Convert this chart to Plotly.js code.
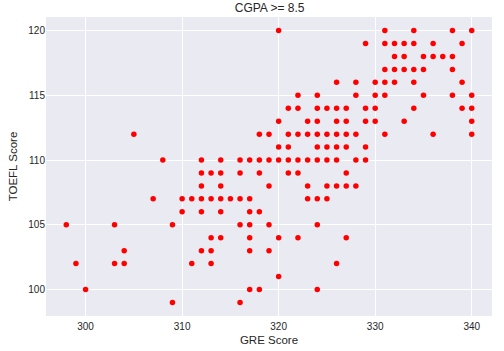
<!DOCTYPE html>
<html><head><meta charset="utf-8">
<script src="https://cdn.plot.ly/plotly-3.0.1.min.js"></script>
<style>html,body{margin:0;padding:0;background:#fff}#chart{width:504px;height:351px}</style>
</head><body><div id="chart"></div>
<script>
// Points grouped by TOEFL score: list of GRE scores at each TOEFL value
const toeflLevels = [120,119,118,117,116,115,114,113,112,111,110,109,108,107,106,105,104,103,102,101,100,99];
const greByToefl = [
  [320,331,334,338,340],
  [329,331,332,333,334,336,339],
  [332,333,335,336,337,338],
  [331,332,333,334,335,338],
  [326,328,330,331,332,334,339],
  [322,324,328,330,331,335,338,340],
  [321,322,324,325,326,327,329,330,334,339,340],
  [320,323,324,326,327,329,330,333,340],
  [305,318,319,321,322,323,324,325,326,327,328,331,336,340],
  [320,321,324,325,326,327,329],
  [308,312,314,316,317,318,319,320,321,322,323,324,325,326,328,329],
  [312,313,314,316,318,321,322,327],
  [312,314,319,323,325,326,327,328],
  [307,310,311,312,313,314,315,316,317,323,324,325],
  [310,312,314,317,318],
  [298,303,309,316,317,319,324],
  [313,314,317,320,322,327],
  [304,312,313,317,319],
  [299,303,304,311,313,326],
  [320],
  [300,317,318,324],
  [309,316]
];
const greScore = [];
const toeflScore = [];
toeflLevels.forEach((t, i) => greByToefl[i].forEach(g => { greScore.push(g); toeflScore.push(t); }));

const font = "Liberation Sans, Arial, sans-serif";
Plotly.newPlot('chart', [{
  x: greScore, y: toeflScore, type: 'scatter', mode: 'markers',
  marker: {color: '#ff0000', size: 5.5, line: {width: 0}}
}], {
  width: 504, height: 351,
  margin: {l: 46, r: 12, t: 17, b: 35},
  paper_bgcolor: '#ffffff', plot_bgcolor: '#EAEAF2',
  title: {text: 'CGPA >= 8.5', font: {family: font, size: 12, color: '#262626'}, x: 0.535, xanchor: 'center', y: 0.99, yanchor: 'top'},
  xaxis: {range: [295.9, 342.1], tickvals: [300,310,320,330,340], showgrid: true, gridcolor: '#ffffff', gridwidth: 1,
    zeroline: false, showline: false, ticks: '', ticklabelstandoff: 3, tickfont: {family: font, size: 10, color: '#262626'},
    title: {text: 'GRE Score', font: {family: font, size: 11.5, color: '#262626'}, standoff: 4}},
  yaxis: {range: [97.95, 121.05], tickvals: [100,105,110,115,120], showgrid: true, gridcolor: '#ffffff', gridwidth: 1,
    zeroline: false, showline: false, ticks: '', tickfont: {family: font, size: 10, color: '#262626'},
    title: {text: 'TOEFL Score', font: {family: font, size: 11.5, color: '#262626'}, standoff: 8}},
  showlegend: false
}, {staticPlot: true});
</script></body></html>
